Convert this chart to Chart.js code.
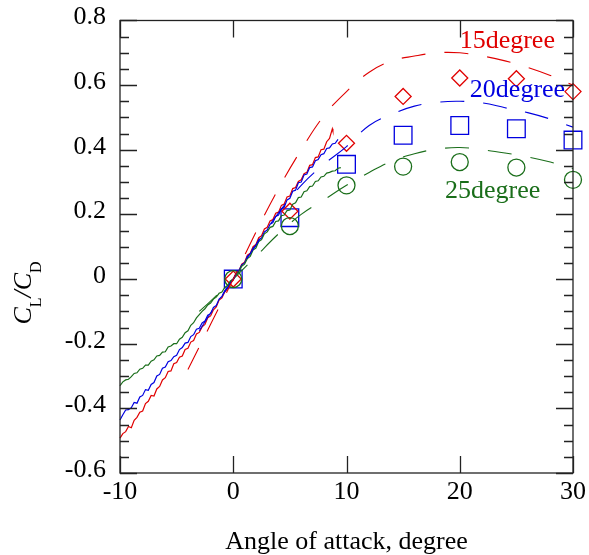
<!DOCTYPE html>
<html>
<head>
<meta charset="utf-8">
<script src="https://cdn.jsdelivr.net/npm/chart.js@4.4.1/dist/chart.umd.min.js"></script>
<style>
  html, body { margin: 0; padding: 0; background: #fff; }
</style>
</head>
<body>
<canvas id="clcd" width="589" height="555"></canvas>
<script>
const exp15X = [-10, -9.75, -9.5, -9.25, -9, -8.75, -8.5, -8.25, -8, -7.75, -7.5, -7.25, -7, -6.75, -6.5, -6.25, -6, -5.75, -5.5, -5.25, -5, -4.75, -4.5, -4.25, -4, -3.75, -3.5, -3.25, -3, -2.75, -2.5, -2.25, -2, -1.75, -1.5, -1.25, -1, -0.75, -0.5, -0.25, 0, 0.25, 0.5, 0.75, 1, 1.25, 1.5, 1.75, 2, 2.25, 2.5, 2.75, 3, 3.25, 3.5, 3.75, 4, 4.25, 4.5, 4.75, 5, 5.25, 5.5, 5.75, 6, 6.25, 6.5, 6.75, 7, 7.25, 7.5, 7.75, 8, 8.25, 8.5, 8.75, 8.8];
const exp15Y = [-0.492, -0.478, -0.472, -0.456, -0.46, -0.437, -0.428, -0.412, -0.408, -0.385, -0.378, -0.36, -0.362, -0.34, -0.332, -0.312, -0.305, -0.286, -0.284, -0.262, -0.258, -0.242, -0.238, -0.218, -0.214, -0.195, -0.19, -0.17, -0.165, -0.148, -0.14, -0.12, -0.114, -0.095, -0.086, -0.065, -0.058, -0.04, -0.03, -0.01, -0.004, 0.018, 0.026, 0.046, 0.052, 0.074, 0.08, 0.1, 0.107, 0.128, 0.134, 0.155, 0.16, 0.18, 0.184, 0.204, 0.207, 0.228, 0.232, 0.254, 0.257, 0.28, 0.283, 0.302, 0.307, 0.326, 0.33, 0.352, 0.354, 0.376, 0.378, 0.4, 0.402, 0.425, 0.435, 0.465, 0.458];
const exp20X = [-10, -9.75, -9.5, -9.25, -9, -8.75, -8.5, -8.25, -8, -7.75, -7.5, -7.25, -7, -6.75, -6.5, -6.25, -6, -5.75, -5.5, -5.25, -5, -4.75, -4.5, -4.25, -4, -3.75, -3.5, -3.25, -3, -2.75, -2.5, -2.25, -2, -1.75, -1.5, -1.25, -1, -0.75, -0.5, -0.25, 0, 0.25, 0.5, 0.75, 1, 1.25, 1.5, 1.75, 2, 2.25, 2.5, 2.75, 3, 3.25, 3.5, 3.75, 4, 4.25, 4.5, 4.75, 5, 5.25, 5.5, 5.75, 6, 6.25, 6.5, 6.75, 7, 7.25, 7.5, 7.75, 8, 8.25, 8.5, 8.75, 9, 9.25];
const exp20Y = [-0.436, -0.42, -0.405, -0.404, -0.398, -0.382, -0.384, -0.365, -0.36, -0.342, -0.344, -0.326, -0.32, -0.3, -0.295, -0.276, -0.272, -0.256, -0.252, -0.24, -0.236, -0.218, -0.212, -0.198, -0.196, -0.178, -0.172, -0.155, -0.152, -0.136, -0.13, -0.112, -0.107, -0.088, -0.082, -0.062, -0.054, -0.036, -0.027, -0.008, 0, 0.018, 0.026, 0.044, 0.05, 0.07, 0.077, 0.096, 0.102, 0.122, 0.127, 0.146, 0.152, 0.17, 0.175, 0.194, 0.198, 0.218, 0.222, 0.245, 0.25, 0.272, 0.275, 0.298, 0.3, 0.322, 0.325, 0.345, 0.347, 0.366, 0.37, 0.385, 0.388, 0.404, 0.406, 0.418, 0.42, 0.432];
const exp25X = [-10, -9.75, -9.5, -9.25, -9, -8.75, -8.5, -8.25, -8, -7.75, -7.5, -7.25, -7, -6.75, -6.5, -6.25, -6, -5.75, -5.5, -5.25, -5, -4.75, -4.5, -4.25, -4, -3.75, -3.5, -3.25, -3, -2.75, -2.5, -2.25, -2, -1.75, -1.5, -1.25, -1, -0.75, -0.5, -0.25, 0, 0.25, 0.5, 0.75, 1, 1.25, 1.5, 1.75, 2, 2.25, 2.5, 2.75, 3, 3.25, 3.5, 3.75, 4, 4.25, 4.5, 4.75, 5, 5.25, 5.5, 5.75, 6, 6.25, 6.5, 6.75, 7, 7.25, 7.5, 7.75, 8, 8.25, 8.5, 8.75, 9, 9.25, 9.5];
const exp25Y = [-0.33, -0.318, -0.312, -0.31, -0.302, -0.292, -0.29, -0.279, -0.276, -0.266, -0.266, -0.254, -0.25, -0.238, -0.236, -0.226, -0.225, -0.21, -0.207, -0.2, -0.2, -0.186, -0.18, -0.166, -0.16, -0.143, -0.135, -0.12, -0.11, -0.1, -0.092, -0.08, -0.074, -0.062, -0.056, -0.044, -0.04, -0.026, -0.02, -0.006, 0, 0.014, 0.022, 0.04, 0.046, 0.064, 0.07, 0.09, 0.096, 0.116, 0.122, 0.14, 0.146, 0.16, 0.163, 0.178, 0.18, 0.196, 0.198, 0.212, 0.214, 0.232, 0.236, 0.252, 0.254, 0.27, 0.273, 0.286, 0.288, 0.302, 0.304, 0.316, 0.318, 0.328, 0.33, 0.334, 0.335, 0.343, 0.345];

// predicted curves (dashed)
const th15X = [-4, -2, 0, 2, 4, 6, 8, 10, 12, 14, 16, 18, 20, 22, 24, 26, 28, 30];
const th15Y = [-0.28, -0.14, 0, 0.145, 0.28, 0.4, 0.505, 0.58, 0.64, 0.675, 0.69, 0.7, 0.7, 0.69, 0.675, 0.655, 0.63, 0.6];
const th20X = [-3, -2, 0, 2, 4, 6, 8, 10, 12, 14, 16, 18, 20, 22, 24, 26, 28, 30];
const th20Y = [-0.16, -0.105, 0, 0.105, 0.205, 0.29, 0.355, 0.41, 0.475, 0.51, 0.535, 0.547, 0.55, 0.545, 0.53, 0.515, 0.495, 0.47];
const th25X = [-3, -2, 0, 2, 4, 6, 8, 10, 12, 14, 16, 18, 20, 22, 24, 26, 28, 30];
const th25Y = [-0.1, -0.068, 0, 0.07, 0.14, 0.2, 0.245, 0.29, 0.33, 0.365, 0.388, 0.402, 0.407, 0.4, 0.39, 0.378, 0.362, 0.342];

// wind tunnel points
const markX = [0, 5, 10, 15, 20, 25, 30];
const mark15 = [0, 0.21, 0.42, 0.565, 0.622, 0.62, 0.58];
const mark20 = [0, 0.19, 0.355, 0.445, 0.475, 0.465, 0.43];
const mark25 = [0, 0.164, 0.29, 0.348, 0.362, 0.345, 0.307];

const xTicks = [-10, 0, 10, 20, 30];
const yTicks = [-0.6, -0.4, -0.2, 0, 0.2, 0.4, 0.6, 0.8];

const labels = [
    { text: '15degree', x: 24.2, y: 0.714, color: '#e00000' },
    { text: '20degree', x: 25.1, y: 0.562, color: '#0000e0' },
    { text: '25degree', x: 22.9, y: 0.25, color: '#1a6e1a' }
];

const RED = '#e00000', BLUE = '#0000e0', GREEN = '#1a6e1a';
const SERIF = '"Liberation Serif", "Times New Roman", serif';

function pts(xs, ys) {
    return xs.map((x, i) => ({ x: x, y: ys[i] }));
}

function solid(xs, ys, color) {
    return { data: pts(xs, ys), showLine: true, borderColor: color, borderWidth: 1.2, pointRadius: 0, fill: false, clip: false };
}

function dashed(xs, ys, color) {
    return { data: pts(xs, ys), showLine: true, borderColor: color, borderWidth: 1.1, borderDash: [24, 19], pointRadius: 0, tension: 0.4, fill: false };
}

function marks(ys, color, style, r) {
    return { data: pts(markX, ys), showLine: false, borderColor: color, backgroundColor: 'rgba(0,0,0,0)', pointStyle: style, pointRadius: r, pointBorderWidth: 1.3, clip: false };
}

// frame, inward ticks, Cl/Cd title and curve labels
const decor = {
    id: 'decor',
    afterDraw(chart) {
        const ctx = chart.ctx;
        const a = chart.chartArea;
        const sx = chart.scales.x, sy = chart.scales.y;
        ctx.save();
        ctx.strokeStyle = '#222';
        ctx.lineWidth = 1.3;
        ctx.strokeRect(a.left, a.top, a.right - a.left, a.bottom - a.top);
        ctx.beginPath();
        for (let k = 0; k <= 28; k++) {
            const v = -0.6 + k * 0.05;
            const py = Math.round(sy.getPixelForValue(v)) + 0.5;
            const len = k % 4 === 0 ? 17 : 9;
            ctx.moveTo(a.left, py); ctx.lineTo(a.left + len, py);
            ctx.moveTo(a.right, py); ctx.lineTo(a.right - len, py);
        }
        xTicks.forEach(v => {
            const px = Math.round(sx.getPixelForValue(v)) + 0.5;
            ctx.moveTo(px, a.bottom); ctx.lineTo(px, a.bottom - 17);
            ctx.moveTo(px, a.top); ctx.lineTo(px, a.top + 17);
        });
        ctx.stroke();

        ctx.textBaseline = 'alphabetic';
        ctx.textAlign = 'center';
        ctx.font = '26px ' + SERIF;
        labels.forEach(l => {
            ctx.fillStyle = l.color;
            ctx.fillText(l.text, sx.getPixelForValue(l.x), sy.getPixelForValue(l.y));
        });

        // y title with subscripts
        const parts = [
            { t: 'C', f: 'italic 26px ' + SERIF, dy: 0 },
            { t: 'L', f: '16px ' + SERIF, dy: 10 },
            { t: '/', f: 'italic 26px ' + SERIF, dy: 0 },
            { t: 'C', f: 'italic 26px ' + SERIF, dy: 0 },
            { t: 'D', f: '16px ' + SERIF, dy: 10 }
        ];
        let total = 0;
        parts.forEach(p => { ctx.font = p.f; p.w = ctx.measureText(p.t).width; total += p.w; });
        ctx.translate(31, 293);
        ctx.rotate(-Math.PI / 2);
        ctx.textAlign = 'left';
        ctx.fillStyle = '#000';
        let cx = -total / 2;
        parts.forEach(p => {
            ctx.font = p.f;
            ctx.fillText(p.t, cx, p.dy);
            cx += p.w;
        });
        ctx.restore();
    }
};

new Chart(document.getElementById('clcd'), {
    type: 'scatter',
    data: {
        datasets: [
            dashed(th15X, th15Y, RED),
            dashed(th20X, th20Y, BLUE),
            dashed(th25X, th25Y, GREEN),
            solid(exp25X, exp25Y, GREEN),
            solid(exp20X, exp20Y, BLUE),
            solid(exp15X, exp15Y, RED),
            marks(mark25, GREEN, 'circle', 8.5),
            marks(mark15, RED, 'rectRot', 8),
            marks(mark20, BLUE, 'rect', 12.5)
        ]
    },
    options: {
        responsive: false,
        animation: false,
        devicePixelRatio: 1,
        layout: { padding: { top: 20.5, right: 16, left: 0, bottom: 0 } },
        plugins: { legend: { display: false }, tooltip: { enabled: false } },
        scales: {
            x: {
                type: 'linear',
                min: -10,
                max: 30,
                afterFit: s => { s.height = 82; s.paddingLeft = 0; s.paddingRight = 0; },
                afterBuildTicks: s => { s.ticks = xTicks.map(v => ({ value: v })); },
                grid: { display: false, drawTicks: false },
                border: { display: false },
                ticks: { color: '#000', font: { family: SERIF, size: 26 }, padding: 4, maxRotation: 0, autoSkip: false },
                title: { display: true, text: 'Angle of attack, degree', color: '#000', font: { family: SERIF, size: 26, lineHeight: 1 }, padding: 0 }
            },
            y: {
                type: 'linear',
                min: -0.6,
                max: 0.8,
                afterFit: s => { s.width = 120; s.paddingTop = 0; s.paddingBottom = 0; },
                afterBuildTicks: s => { s.ticks = yTicks.map(v => ({ value: v })); },
                grid: { display: false, drawTicks: false },
                border: { display: false },
                ticks: {
                    color: '#000',
                    font: { family: SERIF, size: 26 },
                    padding: 14,
                    labelOffset: -3,
                    autoSkip: false,
                    callback: v => Math.abs(v) < 1e-9 ? '0' : v.toFixed(1)
                }
            }
        }
    },
    plugins: [decor]
});
</script>
</body>
</html>
